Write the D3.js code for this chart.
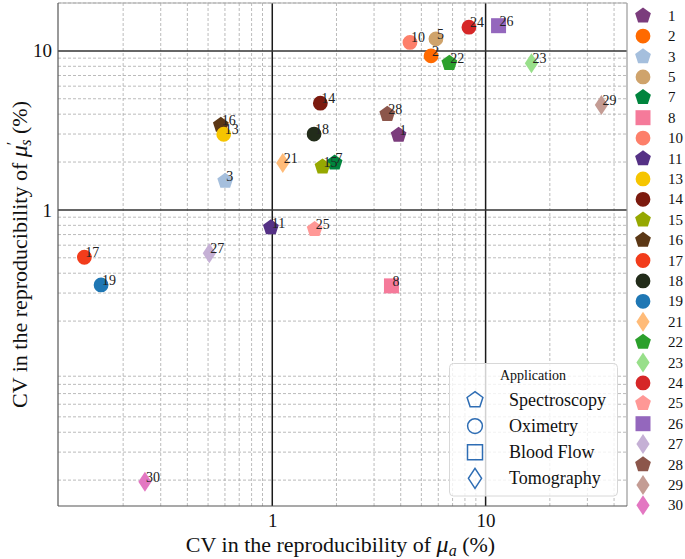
<!DOCTYPE html>
<html>
<head>
<meta charset="utf-8">
<script src="https://cdn.jsdelivr.net/npm/d3@7"></script>
<style>
  body { margin: 0; background: #fff; }
  text { font-family: "Liberation Serif", "Times New Roman", serif; }
</style>
</head>
<body>
<script>
// Data
const ids = [1, 2, 3, 5, 7, 8, 10, 11, 13, 14, 15, 16, 17, 18, 19, 21, 22, 23, 24, 25, 26, 27, 28, 29, 30];
const cvMua = [3.91, 5.55, 0.602, 5.85, 1.96, 3.62, 4.42, 0.985, 0.592, 1.68, 1.72, 0.574, 0.1316, 1.57, 0.1576, 1.12, 6.76, 16.4, 8.35, 1.58, 11.5, 0.507, 3.46, 34.9, 0.253];
const cvMus = [2.96, 9.3, 1.52, 11.9, 1.98, 0.333, 11.3, 0.774, 2.99, 4.69, 1.87, 3.42, 0.504, 3.0, 0.3375, 1.97, 8.37, 8.37, 14.1, 0.756, 14.4, 0.534, 4.0, 4.57, 0.0195];
const application = ["Spectroscopy", "Oximetry", "Spectroscopy", "Oximetry", "Spectroscopy", "Blood Flow",
  "Oximetry", "Spectroscopy", "Oximetry", "Oximetry", "Spectroscopy", "Spectroscopy", "Oximetry", "Oximetry",
  "Oximetry", "Tomography", "Spectroscopy", "Tomography", "Oximetry", "Spectroscopy", "Blood Flow",
  "Tomography", "Spectroscopy", "Tomography", "Tomography"];
const colors = ["#7b3c7c", "#ff6a00", "#a5bfdd", "#cfa36b", "#00843d", "#f57a9a", "#fd7f6a", "#553185",
  "#f6c500", "#7c1a0e", "#96a800", "#5b3715", "#f23c1b", "#222c1a", "#1f77b4", "#ffbb78", "#2ca02c",
  "#98df8a", "#d62728", "#ff9896", "#9467bd", "#c5b0d5", "#8c564b", "#c49c94", "#e377c2"];
const applications = ["Spectroscopy", "Oximetry", "Blood Flow", "Tomography"];
const xTickValues = [1, 10];
const yTickValues = [1, 10];
const xDomain = [0.099, 46];
const yDomain = [0.01375, 20];

const W = 685, H = 559;
const plot = { left: 58, top: 3, right: 627, bottom: 506 };

// формы маркеров, которых нет в d3
const pentagon = {
  draw(ctx, size) {
    const r = Math.sqrt(size);
    for (let k = 0; k < 5; k++) {
      const a = -Math.PI / 2 + k * 2 * Math.PI / 5;
      k ? ctx.lineTo(r * Math.cos(a), r * Math.sin(a)) : ctx.moveTo(r * Math.cos(a), r * Math.sin(a));
    }
    ctx.closePath();
  }
};
const thinDiamond = {
  draw(ctx, size) {
    const h = Math.sqrt(size), w = h * 0.66;
    ctx.moveTo(0, -h); ctx.lineTo(w, 0); ctx.lineTo(0, h); ctx.lineTo(-w, 0); ctx.closePath();
  }
};
const shapeOf = {
  "Spectroscopy": d3.symbol().type(pentagon).size(8.3 * 8.3),
  "Oximetry": d3.symbol().type(d3.symbolCircle).size(Math.PI * 7.4 * 7.4),
  "Blood Flow": d3.symbol().type(d3.symbolSquare).size(15 * 15),
  "Tomography": d3.symbol().type(thinDiamond).size(10 * 10)
};

const svg = d3.select("body").append("svg")
  .attr("width", W).attr("height", H);

const x = d3.scaleLog().domain(xDomain).range([plot.left, plot.right]);
const y = d3.scaleLog().domain(yDomain).range([plot.bottom, plot.top]);

// вспомогательная сетка
const isDecade = v => Math.abs(Math.log10(v) - Math.round(Math.log10(v))) < 1e-6;
const minorX = x.ticks().filter(v => !isDecade(v));
const minorY = y.ticks().filter(v => !isDecade(v));
const grid = svg.append("g").attr("stroke", "#aaa").attr("stroke-width", 0.8).attr("stroke-dasharray", "3,2");
grid.selectAll(".gx").data(minorX).enter().append("line")
  .attr("x1", d => x(d)).attr("x2", d => x(d)).attr("y1", plot.top).attr("y2", plot.bottom);
grid.selectAll(".gy").data(minorY).enter().append("line")
  .attr("y1", d => y(d)).attr("y2", d => y(d)).attr("x1", plot.left).attr("x2", plot.right);

// основные линии
const major = svg.append("g").attr("stroke", "#1a1a1a").attr("stroke-width", 1.5);
major.selectAll(".mx").data(xTickValues).enter().append("line")
  .attr("x1", d => x(d)).attr("x2", d => x(d)).attr("y1", plot.top).attr("y2", plot.bottom);
major.selectAll(".my").data(yTickValues).enter().append("line")
  .attr("y1", d => y(d)).attr("y2", d => y(d)).attr("x1", plot.left).attr("x2", plot.right).attr("stroke", "#333");

// рамка
svg.append("line").attr("x1", plot.left).attr("x2", plot.right).attr("y1", plot.top).attr("y2", plot.top)
  .attr("stroke", "#aaa").attr("stroke-width", 1.2);
svg.append("line").attr("x1", plot.right).attr("x2", plot.right).attr("y1", plot.top).attr("y2", plot.bottom)
  .attr("stroke", "#999").attr("stroke-width", 1.2);
svg.append("line").attr("x1", plot.left).attr("x2", plot.left).attr("y1", plot.top).attr("y2", plot.bottom)
  .attr("stroke", "#555").attr("stroke-width", 1.2);
svg.append("line").attr("x1", plot.left).attr("x2", plot.right).attr("y1", plot.bottom).attr("y2", plot.bottom)
  .attr("stroke", "#555").attr("stroke-width", 1.2);

// оси (только подписи)
const xAxis = svg.append("g").attr("transform", `translate(0,${plot.bottom})`)
  .call(d3.axisBottom(x).tickValues(xTickValues).tickFormat(d3.format("d")).tickSize(0).tickPadding(8));
const yAxis = svg.append("g").attr("transform", `translate(${plot.left},0)`)
  .call(d3.axisLeft(y).tickValues(yTickValues).tickFormat(d3.format("d")).tickSize(0).tickPadding(6));
[xAxis, yAxis].forEach(a => {
  a.select(".domain").remove();
  a.selectAll("text").attr("font-family", "Liberation Serif").attr("font-size", 19).attr("fill", "#111");
});

// названия осей
const xt = svg.append("text").attr("x", (plot.left + plot.right) / 2 - 2).attr("y", 552)
  .attr("text-anchor", "middle").attr("font-size", 22).attr("fill", "#111");
xt.append("tspan").text("CV in the reproducibility of ");
xt.append("tspan").attr("font-style", "italic").attr("font-size", 24).text("μ");
xt.append("tspan").attr("font-style", "italic").attr("font-size", 16).attr("dy", 4).text("a");
xt.append("tspan").attr("dy", -4).text(" (%)");

const yt = svg.append("text").attr("transform", `translate(27,${(plot.top + plot.bottom) / 2}) rotate(-90)`)
  .attr("text-anchor", "middle").attr("font-size", 22).attr("fill", "#111");
yt.append("tspan").text("CV in the reproducibility of ");
yt.append("tspan").attr("font-style", "italic").attr("font-size", 24).text("μ");
yt.append("tspan").attr("font-size", 16).attr("dy", -9).text("′");
yt.append("tspan").attr("font-style", "italic").attr("font-size", 16).attr("dy", 13).attr("dx", -4).text("s");
yt.append("tspan").attr("dy", -4).text(" (%)");

// точки
const points = ids.map((id, i) => ({ id, x: cvMua[i], y: cvMus[i], app: application[i], color: colors[i] }));
const drawOrder = applications.flatMap(a => points.filter(p => p.app === a));
const marks = svg.append("g");
marks.selectAll("path").data(drawOrder).enter().append("path")
  .attr("transform", d => `translate(${x(d.x)},${y(d.y)})`)
  .attr("d", d => shapeOf[d.app]())
  .attr("fill", d => d.color);
marks.selectAll("text").data(drawOrder).enter().append("text")
  .attr("x", d => x(d.x) + 1).attr("y", d => y(d.y))
  .attr("font-size", 14).attr("fill", "#222").text(d => d.id);

// легенда по применению
const lg = svg.append("g");
lg.append("rect").attr("x", 449.5).attr("y", 363.5).attr("width", 168).attr("height", 132.5).attr("rx", 4)
  .attr("fill", "#fff").attr("fill-opacity", 0.8).attr("stroke", "#d8d8d8");
lg.append("text").attr("x", 533).attr("y", 380).attr("text-anchor", "middle")
  .attr("font-size", 14).attr("fill", "#111").text("Application");
const appRow = d3.scalePoint().domain(applications).range([400, 478.3]);
lg.selectAll("path").data(applications).enter().append("path")
  .attr("transform", d => `translate(475,${appRow(d)})`)
  .attr("d", d => shapeOf[d]())
  .attr("fill", "none").attr("stroke", "#2e6db4").attr("stroke-width", 1.5);
lg.selectAll(".lt").data(applications).enter().append("text")
  .attr("x", 509).attr("y", d => appRow(d) + 6)
  .attr("font-size", 18).attr("fill", "#111").text(d => d);

// легенда с номерами справа
const idRow = d3.scalePoint().domain(ids).range([15.7, 505.3]);
const il = svg.append("g");
il.selectAll("path").data(points).enter().append("path")
  .attr("transform", d => `translate(643,${idRow(d.id)})`)
  .attr("d", d => shapeOf[d.app]())
  .attr("fill", d => d.color);
il.selectAll("text").data(points).enter().append("text")
  .attr("x", 668).attr("y", d => idRow(d.id) + 5)
  .attr("font-size", 15).attr("fill", "#111").text(d => d.id);
</script>
</body>
</html>
